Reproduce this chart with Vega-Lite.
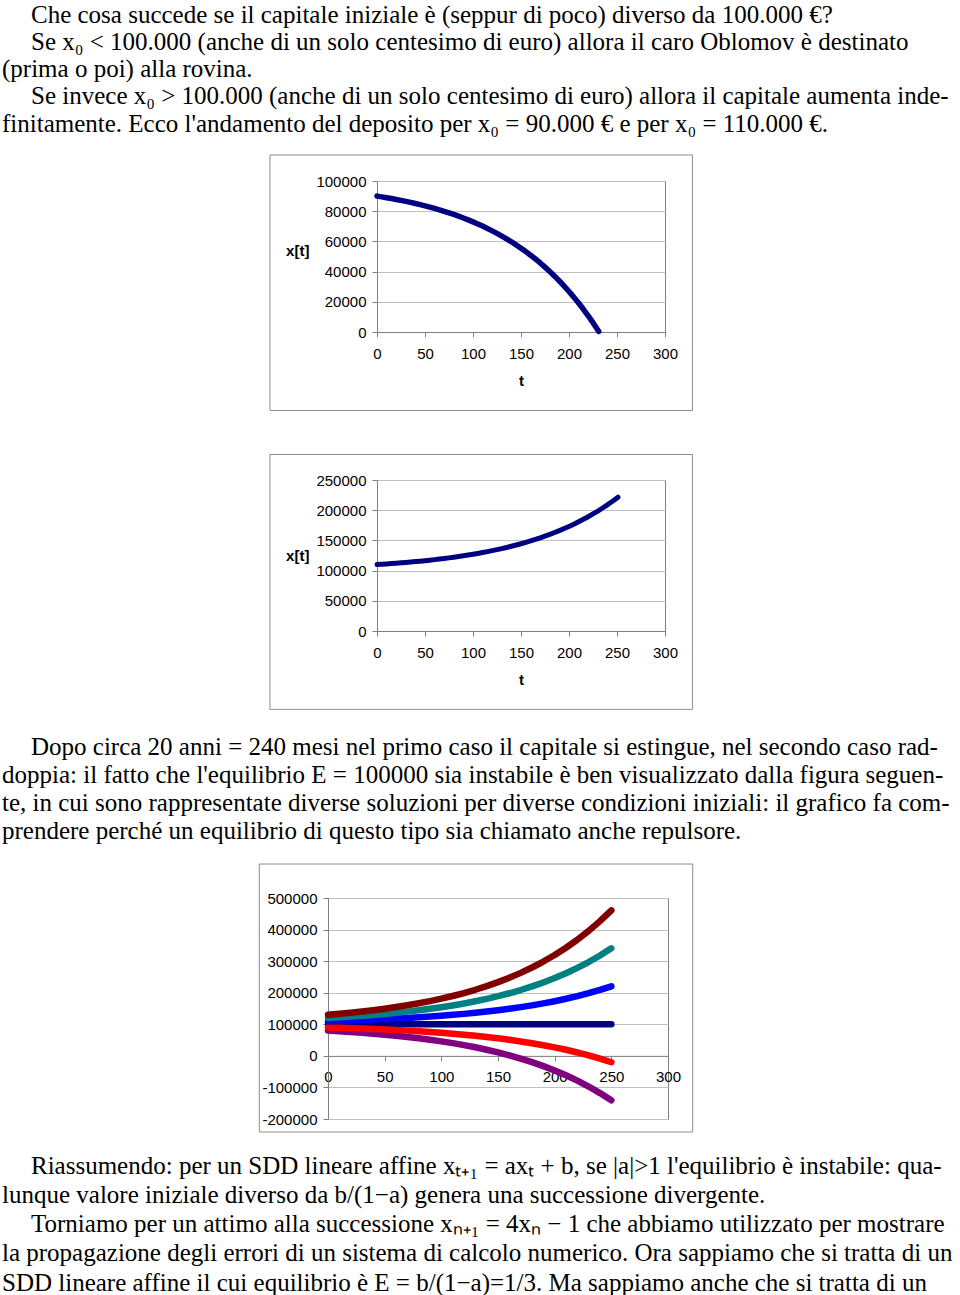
{
"$schema": "https://vega.github.io/schema/vega-lite/v6.json",
"padding": 0,
"autosize": {"type": "pad"},
"background": "#ffffff",
"config": {
 "view": {"stroke": null},
 "axis": {"labelFont": "Liberation Sans", "labelFontSize": 15, "labelColor": "#000000", "tickColor": "#808080", "domainColor": "#808080", "tickSize": 5, "gridColor": "#c0c0c0", "titleFont": "Liberation Sans", "titleFontSize": 15, "titleFontWeight": "bold", "titleColor": "#000000", "labelFlush": false, "labelOverlap": false, "tickCount": 30, "labelExpr": "'' + datum.value"},
 "axisX": {"grid": false, "labelPadding": 9, "titlePadding": 12},
 "axisY": {"grid": true, "labelPadding": 6, "titleAngle": 0, "titleAlign": "right", "titleBaseline": "middle", "titlePadding": 7},
 "text": {"font": "Liberation Serif", "fontSize": 25, "color": "#000000", "align": "left", "baseline": "alphabetic"}
},
"datasets": {
 "t1": [
  {"line": 1, "start": "yes", "txt": "Che cosa succede se il capitale iniziale è (seppur di poco) diverso da 100.000 €?"},
  {"line": 2, "start": "yes", "txt": "Se x₀ < 100.000 (anche di un solo centesimo di euro) allora il caro Oblomov è destinato"},
  {"line": 3, "start": "no", "txt": "(prima o poi) alla rovina."},
  {"line": 4, "start": "yes", "txt": "Se invece x₀ > 100.000 (anche di un solo centesimo di euro) allora il capitale aumenta inde-"},
  {"line": 5, "start": "no", "txt": "finitamente. Ecco l'andamento del deposito per x₀ = 90.000 € e per x₀ = 110.000 €."}
 ],
 "t2": [
  {"line": 1, "start": "yes", "txt": "Dopo circa 20 anni = 240 mesi nel primo caso il capitale si estingue, nel secondo caso rad-"},
  {"line": 2, "start": "no", "txt": "doppia: il fatto che l'equilibrio E = 100000 sia instabile è ben visualizzato dalla figura seguen-"},
  {"line": 3, "start": "no", "txt": "te, in cui sono rappresentate diverse soluzioni per diverse condizioni iniziali: il grafico fa com-"},
  {"line": 4, "start": "no", "txt": "prendere perché un equilibrio di questo tipo sia chiamato anche repulsore."}
 ],
 "t3": [
  {"line": 1, "start": "yes", "txt": "Riassumendo: per un SDD lineare affine xₜ₊₁ = axₜ + b, se |a|>1 l'equilibrio è instabile: qua-"},
  {"line": 2, "start": "no", "txt": "lunque valore iniziale diverso da b/(1−a) genera una successione divergente."},
  {"line": 3, "start": "yes", "txt": "Torniamo per un attimo alla successione xₙ₊₁ = 4xₙ − 1 che abbiamo utilizzato per mostrare"},
  {"line": 4, "start": "no", "txt": "la propagazione degli errori di un sistema di calcolo numerico. Ora sappiamo che si tratta di un"},
  {"line": 5, "start": "no", "txt": "SDD lineare affine il cui equilibrio è E = b/(1−a)=1/3. Ma sappiamo anche che si tratta di un"}
 ],
 "c1": [
  {"t":0,"x":90000},{"t":5,"x":89490},{"t":10,"x":88954},{"t":15,"x":88390},{"t":20,"x":87798},{"t":25,"x":87176},{"t":30,"x":86522},{"t":35,"x":85834},{"t":40,"x":85111},{"t":45,"x":84352},{"t":50,"x":83554},{"t":55,"x":82715},{"t":60,"x":81833},{"t":65,"x":80906},{"t":70,"x":79932},{"t":75,"x":78909},{"t":80,"x":77833},{"t":85,"x":76702},{"t":90,"x":75514},{"t":95,"x":74265},{"t":100,"x":72952},{"t":105,"x":71572},{"t":110,"x":70122},{"t":115,"x":68598},{"t":120,"x":66996},{"t":125,"x":65313},{"t":130,"x":63543},{"t":135,"x":61683},{"t":140,"x":59729},{"t":145,"x":57675},{"t":150,"x":55516},{"t":155,"x":53247},{"t":160,"x":50862},{"t":165,"x":48355},{"t":170,"x":45721},{"t":175,"x":42952},{"t":180,"x":40042},{"t":185,"x":36983},{"t":190,"x":33769},{"t":195,"x":30391},{"t":200,"x":26840},{"t":205,"x":23108},{"t":210,"x":19186},{"t":215,"x":15063},{"t":220,"x":10731},{"t":225,"x":6177},{"t":230,"x":1392},{"t":231,"x":406}
 ],
 "c2": [
  {"t":0,"x":110000},{"t":5,"x":110510},{"t":10,"x":111046},{"t":15,"x":111610},{"t":20,"x":112202},{"t":25,"x":112824},{"t":30,"x":113478},{"t":35,"x":114166},{"t":40,"x":114889},{"t":45,"x":115648},{"t":50,"x":116446},{"t":55,"x":117285},{"t":60,"x":118167},{"t":65,"x":119094},{"t":70,"x":120068},{"t":75,"x":121091},{"t":80,"x":122167},{"t":85,"x":123298},{"t":90,"x":124486},{"t":95,"x":125735},{"t":100,"x":127048},{"t":105,"x":128428},{"t":110,"x":129878},{"t":115,"x":131402},{"t":120,"x":133004},{"t":125,"x":134687},{"t":130,"x":136457},{"t":135,"x":138317},{"t":140,"x":140271},{"t":145,"x":142325},{"t":150,"x":144484},{"t":155,"x":146753},{"t":160,"x":149138},{"t":165,"x":151645},{"t":170,"x":154279},{"t":175,"x":157048},{"t":180,"x":159958},{"t":185,"x":163017},{"t":190,"x":166231},{"t":195,"x":169609},{"t":200,"x":173160},{"t":205,"x":176892},{"t":210,"x":180814},{"t":215,"x":184937},{"t":220,"x":189269},{"t":225,"x":193823},{"t":230,"x":198608},{"t":235,"x":203638},{"t":240,"x":208926},{"t":245,"x":214484},{"t":250,"x":220322},{"t":251,"x":221525}
 ],
 "c3": [
  {"s":"100000","t":0,"x":100000},{"s":"100000","t":10,"x":100000},{"s":"100000","t":20,"x":100000},{"s":"100000","t":30,"x":100000},{"s":"100000","t":40,"x":100000},{"s":"100000","t":50,"x":100000},{"s":"100000","t":60,"x":100000},{"s":"100000","t":70,"x":100000},{"s":"100000","t":80,"x":100000},{"s":"100000","t":90,"x":100000},{"s":"100000","t":100,"x":100000},{"s":"100000","t":110,"x":100000},{"s":"100000","t":120,"x":100000},{"s":"100000","t":130,"x":100000},{"s":"100000","t":140,"x":100000},{"s":"100000","t":150,"x":100000},{"s":"100000","t":160,"x":100000},{"s":"100000","t":170,"x":100000},{"s":"100000","t":180,"x":100000},{"s":"100000","t":190,"x":100000},{"s":"100000","t":200,"x":100000},{"s":"100000","t":210,"x":100000},{"s":"100000","t":220,"x":100000},{"s":"100000","t":230,"x":100000},{"s":"100000","t":240,"x":100000},{"s":"100000","t":250,"x":100000},
  {"s":"80000","t":0,"x":80000},{"s":"80000","t":10,"x":77908},{"s":"80000","t":20,"x":75596},{"s":"80000","t":30,"x":73043},{"s":"80000","t":40,"x":70223},{"s":"80000","t":50,"x":67107},{"s":"80000","t":60,"x":63666},{"s":"80000","t":70,"x":59865},{"s":"80000","t":80,"x":55666},{"s":"80000","t":90,"x":51027},{"s":"80000","t":100,"x":45904},{"s":"80000","t":110,"x":40244},{"s":"80000","t":120,"x":33992},{"s":"80000","t":130,"x":27086},{"s":"80000","t":140,"x":19458},{"s":"80000","t":150,"x":11032},{"s":"80000","t":160,"x":1723},{"s":"80000","t":170,"x":-8559},{"s":"80000","t":180,"x":-19916},{"s":"80000","t":190,"x":-32462},{"s":"80000","t":200,"x":-46320},{"s":"80000","t":210,"x":-61629},{"s":"80000","t":220,"x":-78538},{"s":"80000","t":230,"x":-97217},{"s":"80000","t":240,"x":-117852},{"s":"80000","t":250,"x":-140644},
  {"s":"90000","t":0,"x":90000},{"s":"90000","t":10,"x":88954},{"s":"90000","t":20,"x":87798},{"s":"90000","t":30,"x":86522},{"s":"90000","t":40,"x":85111},{"s":"90000","t":50,"x":83554},{"s":"90000","t":60,"x":81833},{"s":"90000","t":70,"x":79932},{"s":"90000","t":80,"x":77833},{"s":"90000","t":90,"x":75514},{"s":"90000","t":100,"x":72952},{"s":"90000","t":110,"x":70122},{"s":"90000","t":120,"x":66996},{"s":"90000","t":130,"x":63543},{"s":"90000","t":140,"x":59729},{"s":"90000","t":150,"x":55516},{"s":"90000","t":160,"x":50862},{"s":"90000","t":170,"x":45721},{"s":"90000","t":180,"x":40042},{"s":"90000","t":190,"x":33769},{"s":"90000","t":200,"x":26840},{"s":"90000","t":210,"x":19186},{"s":"90000","t":220,"x":10731},{"s":"90000","t":230,"x":1392},{"s":"90000","t":240,"x":-8926},{"s":"90000","t":250,"x":-20322},
  {"s":"110000","t":0,"x":110000},{"s":"110000","t":10,"x":111046},{"s":"110000","t":20,"x":112202},{"s":"110000","t":30,"x":113478},{"s":"110000","t":40,"x":114889},{"s":"110000","t":50,"x":116446},{"s":"110000","t":60,"x":118167},{"s":"110000","t":70,"x":120068},{"s":"110000","t":80,"x":122167},{"s":"110000","t":90,"x":124486},{"s":"110000","t":100,"x":127048},{"s":"110000","t":110,"x":129878},{"s":"110000","t":120,"x":133004},{"s":"110000","t":130,"x":136457},{"s":"110000","t":140,"x":140271},{"s":"110000","t":150,"x":144484},{"s":"110000","t":160,"x":149138},{"s":"110000","t":170,"x":154279},{"s":"110000","t":180,"x":159958},{"s":"110000","t":190,"x":166231},{"s":"110000","t":200,"x":173160},{"s":"110000","t":210,"x":180814},{"s":"110000","t":220,"x":189269},{"s":"110000","t":230,"x":198608},{"s":"110000","t":240,"x":208926},{"s":"110000","t":250,"x":220322},
  {"s":"120000","t":0,"x":120000},{"s":"120000","t":10,"x":122092},{"s":"120000","t":20,"x":124404},{"s":"120000","t":30,"x":126957},{"s":"120000","t":40,"x":129777},{"s":"120000","t":50,"x":132893},{"s":"120000","t":60,"x":136334},{"s":"120000","t":70,"x":140135},{"s":"120000","t":80,"x":144334},{"s":"120000","t":90,"x":148973},{"s":"120000","t":100,"x":154096},{"s":"120000","t":110,"x":159756},{"s":"120000","t":120,"x":166008},{"s":"120000","t":130,"x":172914},{"s":"120000","t":140,"x":180542},{"s":"120000","t":150,"x":188968},{"s":"120000","t":160,"x":198277},{"s":"120000","t":170,"x":208559},{"s":"120000","t":180,"x":219916},{"s":"120000","t":190,"x":232462},{"s":"120000","t":200,"x":246320},{"s":"120000","t":210,"x":261629},{"s":"120000","t":220,"x":278538},{"s":"120000","t":230,"x":297217},{"s":"120000","t":240,"x":317852},{"s":"120000","t":250,"x":340644},
  {"s":"130000","t":0,"x":130000},{"s":"130000","t":10,"x":133139},{"s":"130000","t":20,"x":136606},{"s":"130000","t":30,"x":140436},{"s":"130000","t":40,"x":144666},{"s":"130000","t":50,"x":149339},{"s":"130000","t":60,"x":154501},{"s":"130000","t":70,"x":160203},{"s":"130000","t":80,"x":166502},{"s":"130000","t":90,"x":173459},{"s":"130000","t":100,"x":181144},{"s":"130000","t":110,"x":189634},{"s":"130000","t":120,"x":199012},{"s":"130000","t":130,"x":209371},{"s":"130000","t":140,"x":220813},{"s":"130000","t":150,"x":233453},{"s":"130000","t":160,"x":247415},{"s":"130000","t":170,"x":262838},{"s":"130000","t":180,"x":279874},{"s":"130000","t":190,"x":298693},{"s":"130000","t":200,"x":319481},{"s":"130000","t":210,"x":342443},{"s":"130000","t":220,"x":367808},{"s":"130000","t":230,"x":395825},{"s":"130000","t":240,"x":426778},{"s":"130000","t":250,"x":460966}
 ]
},
"spacing": 0,
"resolve": {"scale": {"x": "independent", "y": "independent", "color": "independent"}},
"vconcat": [
 {"width": 960, "height": 154, "data": {"name": "t1"}, "mark": {"type": "text"},
  "encoding": {
   "x": {"field": "start", "type": "nominal", "scale": {"type": "point", "padding": 0, "domain": ["no", "yes"], "range": [2, 31]}, "axis": null},
   "y": {"field": "line", "type": "quantitative", "scale": {"domain": [1, 5], "range": [22.5, 131.5]}, "axis": null},
   "text": {"field": "txt"}}},
 {"hconcat": [
   {"width": 268, "height": 10, "data": {"values": [{}]}, "mark": {"type": "text", "text": ""}, "encoding": {}},
   {"width": 288, "height": 151, "view": {"stroke": "#808080"},
    "layer": [
     {"data": {"values": [{}]}, "mark": {"type": "rect", "fillOpacity": 0, "stroke": "#8c8c8c", "strokeWidth": 1},
      "encoding": {"x": {"datum": -111.5, "type": "quantitative", "title": "t"}, "x2": {"datum": 328.6}, "y": {"datum": 117218, "type": "quantitative", "title": "x[t]"}, "y2": {"datum": -51986}}},
     {"data": {"name": "c1"}, "mark": {"type": "line", "color": "#000080", "strokeWidth": 5.5, "strokeCap": "round", "strokeJoin": "round"},
      "encoding": {
       "x": {"field": "t", "type": "quantitative", "title": "t", "scale": {"domain": [0, 300], "nice": false, "zero": false}, "axis": {"values": [0, 50, 100, 150, 200, 250, 300], "tickCount": 30}},
       "y": {"field": "x", "type": "quantitative", "title": "x[t]", "scale": {"domain": [0, 100000], "nice": false}, "axis": {"values": [0, 20000, 40000, 60000, 80000, 100000], "tickCount": 30, "titleY": 69}}}}
    ]}
  ], "spacing": 0, "resolve": {"scale": {"x": "independent", "y": "independent"}}},
 {"width": 10, "height": 41, "data": {"values": [{}]}, "mark": {"type": "text", "text": ""}, "encoding": {}},
 {"hconcat": [
   {"width": 268, "height": 10, "data": {"values": [{}]}, "mark": {"type": "text", "text": ""}, "encoding": {}},
   {"width": 288, "height": 151, "view": {"stroke": "#808080"},
    "layer": [
     {"data": {"values": [{}]}, "mark": {"type": "rect", "fillOpacity": 0, "stroke": "#8c8c8c", "strokeWidth": 1},
      "encoding": {"x": {"datum": -111.5, "type": "quantitative", "title": "t"}, "x2": {"datum": 328.6}, "y": {"datum": 292218, "type": "quantitative", "title": "x[t]"}, "y2": {"datum": -129795}}},
     {"data": {"name": "c2"}, "mark": {"type": "line", "color": "#000080", "strokeWidth": 5, "strokeCap": "round", "strokeJoin": "round"},
      "encoding": {
       "x": {"field": "t", "type": "quantitative", "title": "t", "scale": {"domain": [0, 300], "nice": false, "zero": false}, "axis": {"values": [0, 50, 100, 150, 200, 250, 300], "tickCount": 30}},
       "y": {"field": "x", "type": "quantitative", "title": "x[t]", "scale": {"domain": [0, 250000], "nice": false}, "axis": {"values": [0, 50000, 100000, 150000, 200000, 250000], "tickCount": 30}}}}
    ]}
  ], "spacing": 0, "resolve": {"scale": {"x": "independent", "y": "independent"}}},
 {"width": 960, "height": 152, "data": {"name": "t2"}, "mark": {"type": "text"},
  "encoding": {
   "x": {"field": "start", "type": "nominal", "scale": {"type": "point", "padding": 0, "domain": ["no", "yes"], "range": [2, 31]}, "axis": null},
   "y": {"field": "line", "type": "quantitative", "scale": {"domain": [1, 4], "range": [43.5, 127.5]}, "axis": null},
   "text": {"field": "txt"}}},
 {"hconcat": [
   {"width": 258, "height": 10, "data": {"values": [{}]}, "mark": {"type": "text", "text": ""}, "encoding": {}},
   {"width": 340, "height": 221, "view": {"stroke": "#808080"},
    "layer": [
     {"data": {"values": [{}]}, "mark": {"type": "rect", "fillOpacity": 0, "stroke": "#8c8c8c", "strokeWidth": 1},
      "encoding": {"x": {"datum": -60.62, "type": "quantitative", "title": null}, "x2": {"datum": 321.8}, "y": {"datum": 607692, "type": "quantitative", "title": null}, "y2": {"datum": -241176}}},
     {"data": {"name": "c3"}, "mark": {"type": "line", "strokeWidth": 6.5, "strokeCap": "round", "strokeJoin": "round"},
      "encoding": {
       "x": {"field": "t", "type": "quantitative", "title": null, "scale": {"domain": [0, 300], "nice": false, "zero": false}, "axis": {"values": [0, 50, 100, 150, 200, 250, 300], "tickCount": 30, "offset": -63.14}},
       "y": {"field": "x", "type": "quantitative", "title": null, "scale": {"domain": [-200000, 500000], "nice": false}, "axis": {"values": [-200000, -100000, 0, 100000, 200000, 300000, 400000, 500000], "tickCount": 30}},
       "color": {"field": "s", "type": "nominal", "legend": null, "scale": {"domain": ["100000", "80000", "90000", "110000", "120000", "130000"], "range": ["#000080", "#800080", "#ff0000", "#0000ff", "#008080", "#800000"]}}}}
    ]}
  ], "spacing": 0, "resolve": {"scale": {"x": "independent", "y": "independent"}}},
 {"width": 960, "height": 165, "data": {"name": "t3"}, "mark": {"type": "text"},
  "encoding": {
   "x": {"field": "start", "type": "nominal", "scale": {"type": "point", "padding": 0, "domain": ["no", "yes"], "range": [2, 31]}, "axis": null},
   "y": {"field": "line", "type": "quantitative", "scale": {"domain": [1, 5], "range": [41, 157.5]}, "axis": null},
   "text": {"field": "txt"}}}
]
}
